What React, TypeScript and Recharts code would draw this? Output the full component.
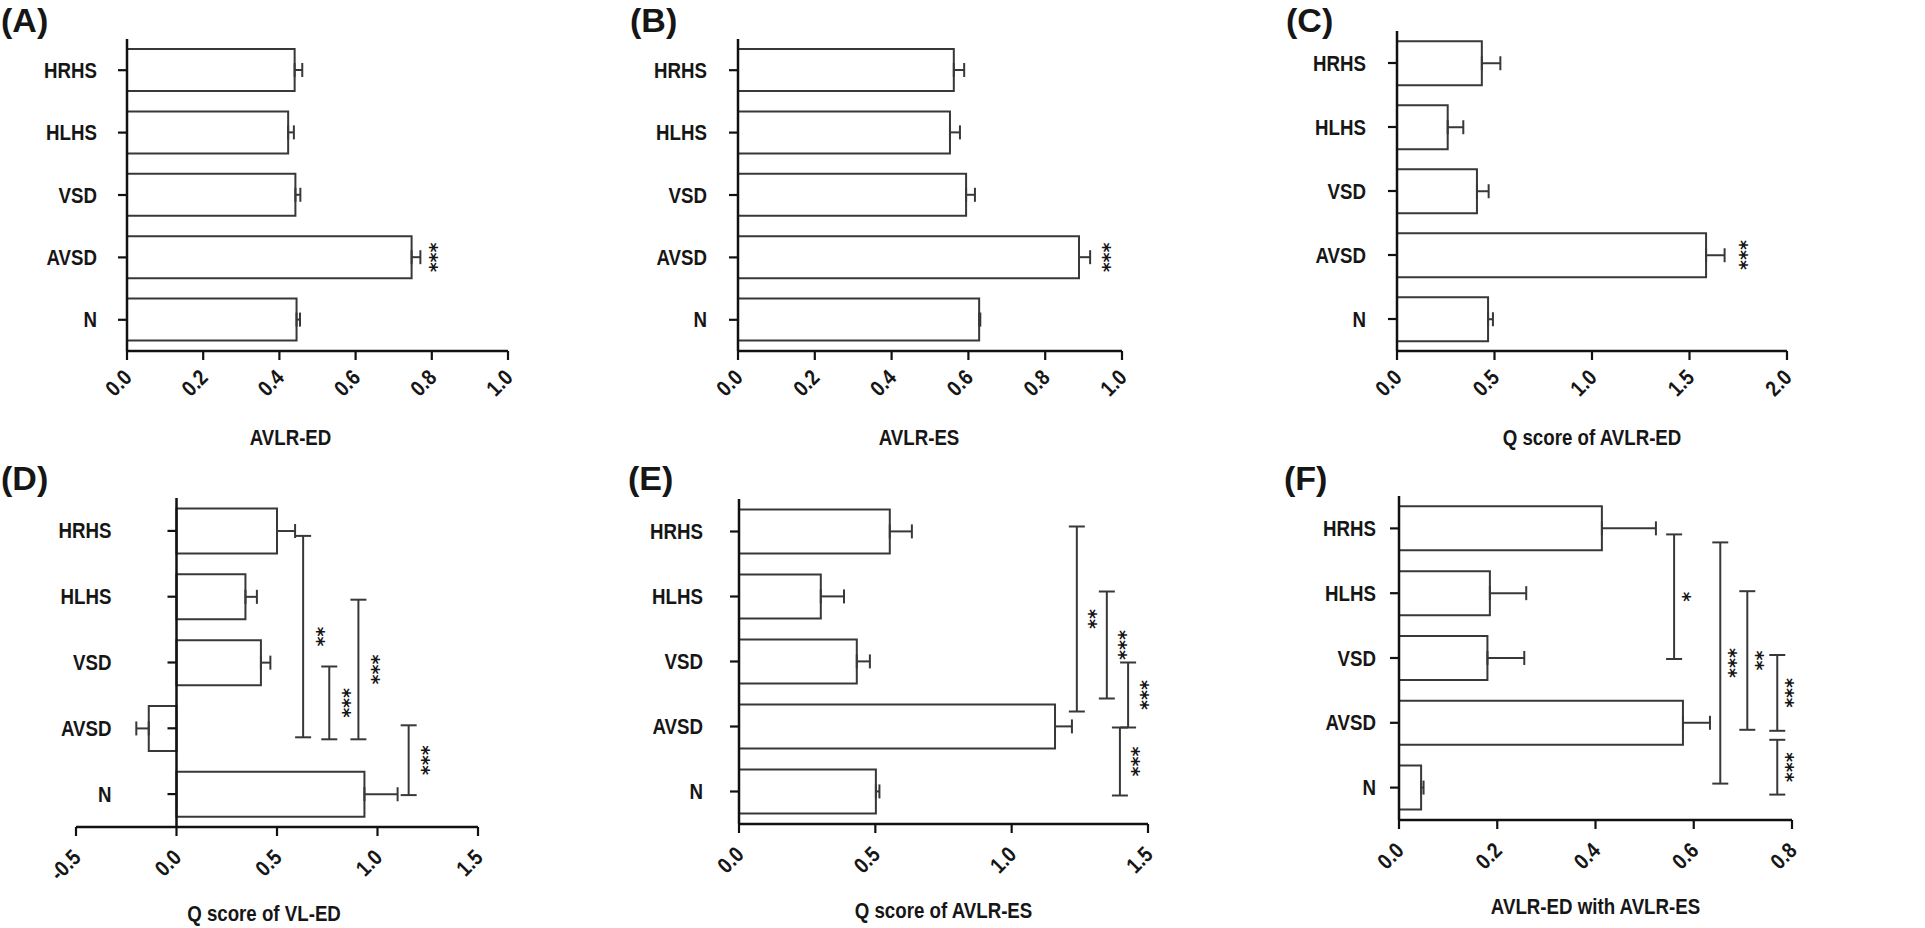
import { BarChart, Bar, XAxis, YAxis, ErrorBar, ReferenceLine } from "recharts";

// groups, top to bottom
const groups = ["HRHS", "HLHS", "VSD", "AVSD", "N"];

// (A) AVLR-ED
const meanA = [0.44, 0.423, 0.442, 0.747, 0.445];
const semA = [0.02, 0.015, 0.013, 0.023, 0.009];
// (B) AVLR-ES
const meanB = [0.562, 0.552, 0.594, 0.888, 0.628];
const semB = [0.027, 0.026, 0.023, 0.029, 0.003];
// (C) Q score of AVLR-ED
const meanC = [0.435, 0.26, 0.41, 1.585, 0.467];
const semC = [0.095, 0.08, 0.06, 0.095, 0.025];
// (D) Q score of VL-ED
const meanD = [0.5, 0.343, 0.42, -0.138, 0.935];
const semD = [0.09, 0.057, 0.047, 0.062, 0.165];
// (E) Q score of AVLR-ES
const meanE = [0.553, 0.3, 0.432, 1.159, 0.502];
const semE = [0.081, 0.085, 0.048, 0.062, 0.013];
// (F) AVLR-ED with AVLR-ES
const meanF = [0.413, 0.185, 0.18, 0.578, 0.045];
const semF = [0.11, 0.074, 0.075, 0.055, 0.005];

const ticksAB = [0, 0.2, 0.4, 0.6, 0.8, 1.0];
const ticksC = [0, 0.5, 1.0, 1.5, 2.0];
const ticksD = [-0.5, 0, 0.5, 1.0, 1.5];
const ticksE = [0, 0.5, 1.0, 1.5];
const ticksF = [0, 0.2, 0.4, 0.6, 0.8];

// single-group significance marks (vs N)
const starsABC = [{ group: "AVSD", text: "***" }];

// pairwise comparisons: x = where the bracket sits on the value axis
const bracketsD = [
  { x: 0.63, from: "HRHS", to: "AVSD", text: "**" },
  { x: 0.76, from: "VSD", to: "AVSD", text: "***" },
  { x: 0.905, from: "HLHS", to: "AVSD", text: "***" },
  { x: 1.155, from: "AVSD", to: "N", text: "***" },
];
const bracketsE = [
  { x: 1.239, from: "HRHS", to: "AVSD", text: "**" },
  { x: 1.349, from: "HLHS", to: "AVSD", text: "***" },
  { x: 1.427, from: "VSD", to: "AVSD", text: "***" },
  { x: 1.397, from: "AVSD", to: "N", text: "***" },
];
const bracketsF = [
  { x: 0.56, from: "HRHS", to: "VSD", text: "*" },
  { x: 0.654, from: "HRHS", to: "N", text: "***" },
  { x: 0.709, from: "HLHS", to: "AVSD", text: "**" },
  { x: 0.77, from: "VSD", to: "AVSD", text: "***" },
  { x: 0.77, from: "AVSD", to: "N", text: "***" },
];

// pixel nudges of bracket ends (hand drawn in the original)
const nudgeD = [[5, 9], [4, 11], [3, 11], [-3, 1]];
const nudgeE = [[-5, -15], [-5, -28], [1, 1], [1, 4]];
const nudgeF = [[6, 1], [14, -4], [-2, 7], [-3, 8], [17, 7]];

const FONT = "'Liberation Sans', Arial, sans-serif";
const INK = "#161616";
const LINE = "#383838";
const SQUEEZE = 0.85; // the original uses a condensed sans

const panels = [
  { tag: "(A)", title: "AVLR-ED", means: meanA, sems: semA, ticks: ticksAB, stars: starsABC, brackets: [], nudges: [],
    box: { x: 0, y: 0, w: 620, h: 455 }, plot: { L: 127, T: 39, R: 508, B: 351 }, labelGap: 30, titleDx: -27, tickDy: 19, starGap: 14, tagPos: [1, 3] },
  { tag: "(B)", title: "AVLR-ES", means: meanB, sems: semB, ticks: ticksAB, stars: starsABC, brackets: [], nudges: [],
    box: { x: 620, y: 0, w: 650, h: 455 }, plot: { L: 738, T: 39, R: 1122, B: 351 }, labelGap: 31, titleDx: -11, tickDy: 19, starGap: 17, tagPos: [630, 3] },
  { tag: "(C)", title: "Q score of AVLR-ED", means: meanC, sems: semC, ticks: ticksC, stars: starsABC, brackets: [], nudges: [],
    box: { x: 1270, y: 0, w: 655, h: 455 }, plot: { L: 1397, T: 31, R: 1787, B: 351 }, labelGap: 31, titleDx: 0, tickDy: 19, starGap: 20, tagPos: [1286, 3] },
  { tag: "(D)", title: "Q score of VL-ED", means: meanD, sems: semD, ticks: ticksD, stars: [], brackets: bracketsD, nudges: nudgeD,
    box: { x: 0, y: 455, w: 620, h: 473 }, plot: { L: 76, T: 498, R: 478, B: 827 }, labelGap: 65, titleDx: -13, tickDy: 23, starGap: 18, tagPos: [1, 461] },
  { tag: "(E)", title: "Q score of AVLR-ES", means: meanE, sems: semE, ticks: ticksE, stars: [], brackets: bracketsE, nudges: nudgeE,
    box: { x: 620, y: 455, w: 650, h: 473 }, plot: { L: 739, T: 499, R: 1148, B: 824 }, labelGap: 36, titleDx: 0, tickDy: 23, starGap: 17, tagPos: [628, 461] },
  { tag: "(F)", title: "AVLR-ED  with AVLR-ES", means: meanF, sems: semF, ticks: ticksF, stars: [], brackets: bracketsF, nudges: nudgeF,
    box: { x: 1270, y: 455, w: 655, h: 473 }, plot: { L: 1399, T: 496, R: 1792, B: 820 }, labelGap: 23, titleDx: 0, tickDy: 23, starGap: 13, tagPos: [1284, 461] },
];

function Stars({ x, y, text }: { x: number; y: number; text: string }) {
  return (
    <text
      transform={`translate(${x},${y}) rotate(90)`}
      textAnchor="middle"
      dy="0.55em"
      fontFamily="'DejaVu Sans', sans-serif"
      fontWeight="bold"
      fontSize={19}
      fill={INK}
      stroke="none"
    >
      {text}
    </text>
  );
}

function Panel({ cfg }: { cfg: any }) {
  const { box, plot } = cfg;
  const yw = plot.L - box.x - 4;
  const xh = box.y + box.h - plot.B - 4;
  const margin = { left: 4, top: plot.T - box.y, right: box.x + box.w - plot.R, bottom: 4 };
  const rows = groups.map((g, i) => ({
    group: g,
    mean: cfg.means[i],
    err: cfg.means[i] < 0 ? [cfg.sems[i], 0] : [0, cfg.sems[i]],
  }));
  const dmin = cfg.ticks[0];
  const dmax = cfg.ticks[cfg.ticks.length - 1];
  // y axis sits at value 0, not at the left edge (matters for D)
  const zeroShift = ((0 - dmin) / (dmax - dmin)) * (plot.R - plot.L);

  const yTick = (p: any) => {
    const ax = p.x + zeroShift;
    return (
      <g>
        <line x1={ax - 9} x2={ax} y1={p.y} y2={p.y} stroke="#111" strokeWidth={2.2} />
        <text transform={`translate(${ax - cfg.labelGap},${p.y}) scale(${SQUEEZE},1)`} textAnchor="end"
          dominantBaseline="central" fontFamily={FONT} fontWeight="bold" fontSize={22} fill={INK}>
          {p.payload.value}
        </text>
      </g>
    );
  };

  const xTick = (p: any) => (
    <text transform={`translate(${p.x + 6},${p.y + cfg.tickDy}) rotate(-45) scale(${SQUEEZE},1)`} textAnchor="end"
      fontFamily={FONT} fontWeight="bold" fontSize={22} fill={INK}>
      {Number(p.payload.value).toFixed(1)}
    </text>
  );

  const title = (lp: any) => {
    const vb = lp.viewBox || {};
    return (
      <text transform={`translate(${vb.x + vb.width / 2 + cfg.titleDx},${vb.y + 94}) scale(${SQUEEZE},1)`}
        textAnchor="middle" fontFamily={FONT} fontWeight="bold" fontSize={22} fill={INK}>
        {cfg.title}
      </text>
    );
  };

  return (
    <div style={{ position: "absolute", left: box.x, top: box.y }}>
      <BarChart width={box.w} height={box.h} layout="vertical" data={rows} margin={margin} barCategoryGap="16%">
        <XAxis type="number" domain={[dmin, dmax]} ticks={cfg.ticks} interval={0} allowDataOverflow
          height={xh} tickSize={9} tickMargin={0}
          axisLine={{ stroke: "#111", strokeWidth: 2.5 }} tickLine={{ stroke: "#111", strokeWidth: 2.2 }}
          tick={xTick} label={{ content: title }} />
        <YAxis type="category" dataKey="group" width={yw} axisLine={false} tickLine={false}
          tickSize={0} tickMargin={0} tick={yTick} interval={0} />
        <Bar dataKey="mean" fill="#ffffff" stroke={LINE} strokeWidth={2} isAnimationActive={false}>
          <ErrorBar dataKey="err" direction="x" width={7} stroke={LINE} strokeWidth={2} />
        </Bar>
        <ReferenceLine x={0} stroke="#111" strokeWidth={2.5} />
        {cfg.stars.map((s: any, k: number) => {
          const i = groups.indexOf(s.group);
          const v = cfg.means[i] + cfg.sems[i];
          return (
            <ReferenceLine key={`s${k}`} position="middle"
              segment={[{ x: v, y: s.group }, { x: v, y: s.group }]}
              shape={(p: any) => <Stars x={p.x1 + cfg.starGap} y={p.y1} text={s.text} />} />
          );
        })}
        {cfg.brackets.map((b: any, k: number) => {
          const [n1, n2] = cfg.nudges[k];
          return (
            <ReferenceLine key={`b${k}`} position="middle"
              segment={[{ x: b.x, y: b.from }, { x: b.x, y: b.to }]}
              shape={(p: any) => {
                const x = p.x1;
                const y1 = p.y1 + n1;
                const y2 = p.y2 + n2;
                return (
                  <g>
                    <g stroke={LINE} strokeWidth={2}>
                      <line x1={x} x2={x} y1={y1} y2={y2} />
                      <line x1={x - 8} x2={x + 8} y1={y1} y2={y1} />
                      <line x1={x - 8} x2={x + 8} y1={y2} y2={y2} />
                    </g>
                    <Stars x={x + cfg.starGap} y={(y1 + y2) / 2} text={b.text} />
                  </g>
                );
              }} />
          );
        })}
      </BarChart>
    </div>
  );
}

export default function App() {
  return (
    <div style={{ position: "absolute", left: 0, top: 0, width: 1925, height: 928, background: "#fff", overflow: "hidden" }}>
      {panels.map((cfg) => (
        <Panel key={cfg.tag} cfg={cfg} />
      ))}
      {panels.map((cfg) => (
        <div key={`t${cfg.tag}`} style={{ position: "absolute", left: cfg.tagPos[0], top: cfg.tagPos[1],
          fontFamily: FONT, fontWeight: "bold", fontSize: 34, lineHeight: "34px", color: INK }}>
          {cfg.tag}
        </div>
      ))}
    </div>
  );
}
